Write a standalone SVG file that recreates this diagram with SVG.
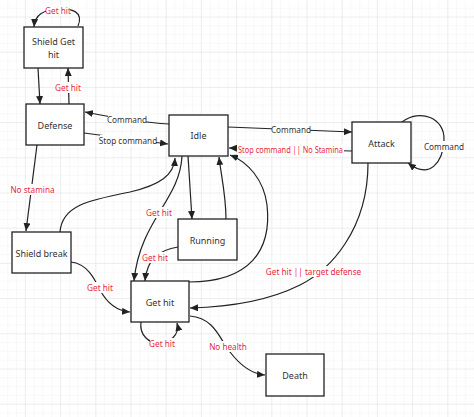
<svg xmlns="http://www.w3.org/2000/svg" width="474" height="417" viewBox="0 0 474 417">
<style>
.node rect{fill:#fff;stroke:#222;stroke-width:1.3}
.nt{font-family:"Noto Sans","Open Sans",sans-serif;font-size:9px;fill:#333;text-anchor:middle;dominant-baseline:central}
.el{font-family:"Noto Sans","Open Sans",sans-serif;font-size:8.2px;text-anchor:middle;dominant-baseline:central}
.blk{fill:#333}
.red{fill:#e8283c}
.edges path{fill:none;stroke:#222;stroke-width:1.2}
.lb{fill:#fff}
</style>
<defs>
<pattern id="minor" width="8.8" height="8.8" patternUnits="userSpaceOnUse" x="24.9" y="16.5">
<path d="M0,0 H8.8 M0,0 V8.8" fill="none" stroke="#f1f1f1" stroke-width="1"/>
</pattern>
<pattern id="major" width="35.2" height="35.2" patternUnits="userSpaceOnUse" x="24.9" y="16.5">
<path d="M0,0 H35.2 M0,0 V35.2" fill="none" stroke="#e3e3e3" stroke-width="1"/>
</pattern>
<marker id="ar" markerWidth="8" markerHeight="7" refX="8" refY="3.5" orient="auto" markerUnits="userSpaceOnUse">
<path d="M0,0 L8,3.5 L0,7 z" fill="#222"/>
</marker>
</defs>
<rect width="474" height="417" fill="#fff"/>
<rect width="474" height="417" fill="url(#minor)"/>
<rect width="474" height="417" fill="url(#major)"/>

<g class="edges" id="connectors">
<path d="M78,26 C84,12 72,8 58,9 C44,10 35,14 34,27" marker-end="url(#ar)"/>
<path d="M38,68 L40,104" marker-end="url(#ar)"/>
<path d="M69,104 L68,68" marker-end="url(#ar)"/>
<path d="M169,124 C150,123 120,119 85,112" marker-end="url(#ar)"/>
<path d="M84,133 L168,144" marker-end="url(#ar)"/>
<path d="M228,127 L352,132" marker-end="url(#ar)"/>
<path d="M352,151 L229,148" marker-end="url(#ar)"/>
<path d="M402,122 C420,108 445,118 444,140 C443,162 430,180 408,163" marker-end="url(#ar)"/>
<path d="M37,145 L26,231" marker-end="url(#ar)"/>
<path d="M60,232 C62,205 90,200 130,192 C160,185 174,175 175,158" marker-end="url(#ar)"/>
<path d="M182,156 C180,200 140,220 134,281" marker-end="url(#ar)"/>
<path d="M188,156 L192,219" marker-end="url(#ar)"/>
<path d="M226,219 C226,195 221,175 219,157" marker-end="url(#ar)"/>
<path d="M178,247 C160,250 147,258 145,281" marker-end="url(#ar)"/>
<path d="M189,282 C250,282 272,250 267,205 C264,180 248,162 230,155" marker-end="url(#ar)"/>
<path d="M368,163 C368,230 330,270 300,285 C270,300 230,307 190,308" marker-end="url(#ar)"/>
<path d="M71,262 C88,264 95,280 100,290 C108,305 118,311 130,312" marker-end="url(#ar)"/>
<path d="M141,322 C139,336 150,343 158,343 C170,343 180,335 177,323" marker-end="url(#ar)"/>
<path d="M190,316 C215,318 220,340 230,352 C240,365 252,374 265,375" marker-end="url(#ar)"/>

<rect class="lb" x="46" y="5" width="24" height="11"/>
<text class="el red" x="58" y="10.5">Get hit</text>
<rect class="lb" x="57" y="82" width="24" height="11"/>
<text class="el red" x="68" y="87.5">Get hit</text>
<rect class="lb" x="108" y="114" width="38" height="11"/>
<text class="el blk" x="127" y="119.5">Command</text>
<rect class="lb" x="100" y="135" width="56" height="11"/>
<text class="el blk" x="128" y="140.5">Stop command</text>
<rect class="lb" x="272" y="124" width="38" height="11"/>
<text class="el blk" x="291" y="129.5">Command</text>
<rect class="lb" x="237" y="144" width="107" height="11"/>
<text class="el red" x="290.5" y="149.5" textLength="105" lengthAdjust="spacingAndGlyphs">Stop command || No Stamina</text>
<rect class="lb" x="425" y="141" width="38" height="11"/>
<text class="el blk" x="444" y="146.5">Command</text>
<rect class="lb" x="12" y="184" width="41" height="11"/>
<text class="el red" x="32.5" y="189.5">No stamina</text>
<rect class="lb" x="147" y="207" width="24" height="11"/>
<text class="el red" x="159" y="212.5">Get hit</text>
<rect class="lb" x="143" y="252" width="24" height="11"/>
<text class="el red" x="155" y="257.5">Get hit</text>
<rect class="lb" x="270" y="266" width="87" height="11"/>
<text class="el red" x="313.5" y="271.5">Get hit || target defense</text>
<rect class="lb" x="88" y="282" width="24" height="11"/>
<text class="el red" x="100" y="287.5">Get hit</text>
<rect class="lb" x="150" y="338" width="24" height="11"/>
<text class="el red" x="162" y="343.5">Get hit</text>
<rect class="lb" x="210" y="341" width="36" height="11"/>
<text class="el red" x="228" y="346.5">No health</text>
</g>

<g class="node" id="shield-get-hit"><rect x="24" y="27" width="59" height="41"/><text class="nt" x="53.5" y="41.5">Shield Get</text><text class="nt" x="53.5" y="54">hit</text></g>
<g class="node" id="defense"><rect x="26" y="104" width="58" height="41"/><text class="nt" x="55" y="125">Defense</text></g>
<g class="node" id="idle"><rect x="169" y="115" width="59" height="41"/><text class="nt" x="198.5" y="135">Idle</text></g>
<g class="node" id="attack"><rect x="352" y="122" width="59" height="41"/><text class="nt" x="381.5" y="143">Attack</text></g>
<g class="node" id="shield-break"><rect x="12" y="232" width="59" height="41"/><text class="nt" x="41.5" y="253">Shield break</text></g>
<g class="node" id="running"><rect x="178" y="219" width="59" height="41"/><text class="nt" x="207.5" y="240">Running</text></g>
<g class="node" id="get-hit"><rect x="131" y="281" width="58" height="41"/><text class="nt" x="160" y="302">Get hit</text></g>
<g class="node" id="death"><rect x="266" y="354" width="58" height="42"/><text class="nt" x="295" y="375">Death</text></g>
</svg>
